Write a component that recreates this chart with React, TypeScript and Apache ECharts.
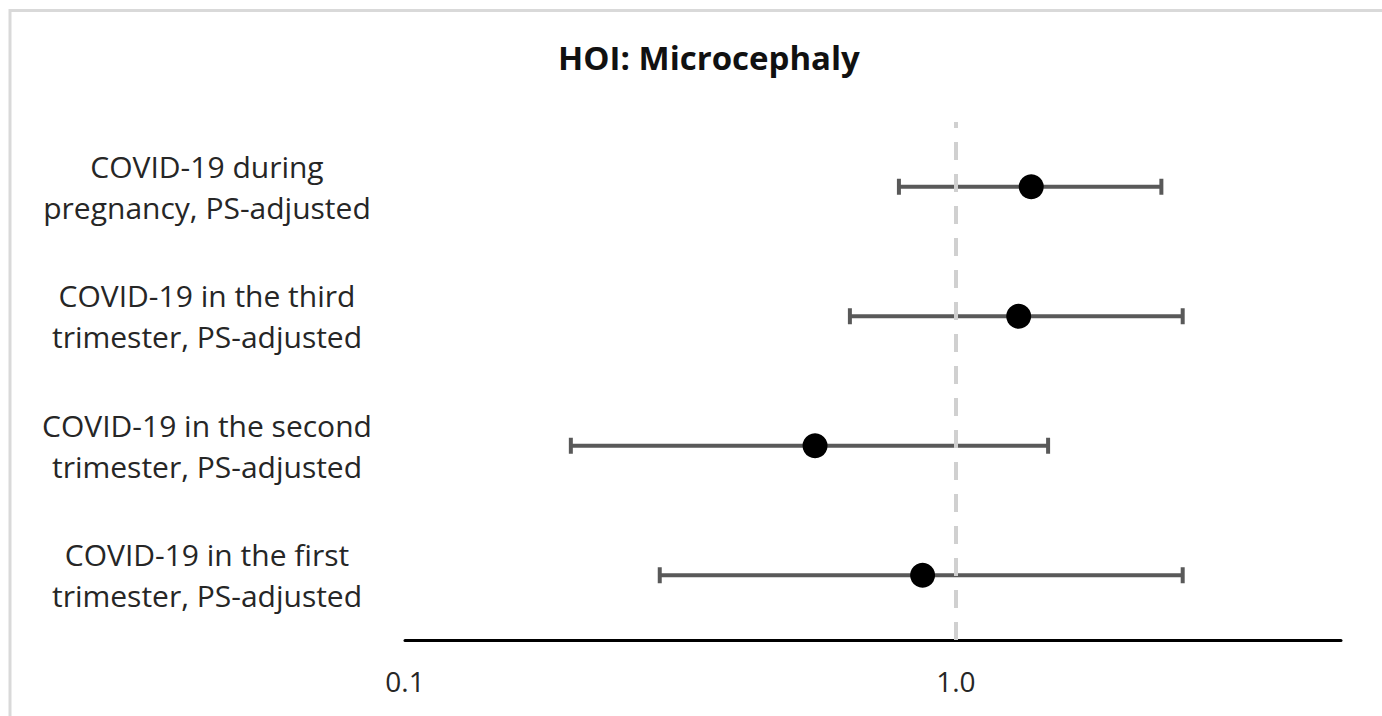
import React, { useEffect, useRef } from "react";
import * as echarts from "echarts";

const titleText = "HOI: Microcephaly";
const categories = [
  "COVID-19 in the first\ntrimester, PS-adjusted",
  "COVID-19 in the second\ntrimester, PS-adjusted",
  "COVID-19 in the third\ntrimester, PS-adjusted",
  "COVID-19 during\npregnancy, PS-adjusted",
];
const estimates = [0.87, 0.555, 1.3, 1.37];
const lowerCI = [0.29, 0.2, 0.642, 0.788];
const upperCI = [2.58, 1.47, 2.58, 2.36];
const xTickLabels = ["0.1", "1.0"];
const referenceValue = 1;

const FONT = "'Open Sans', 'Liberation Sans', sans-serif";

export default function App() {
  const ref = useRef<HTMLDivElement>(null);
  useEffect(() => {
    document.body.style.margin = "0";
    document.body.style.overflow = "hidden";
    const chart = echarts.init(ref.current!, null, { renderer: "svg" });
    const ciData = categories.map((_, i) => [i, lowerCI[i], upperCI[i]]);
    const pointData = categories.map((c, i) => [estimates[i], i]);
    chart.setOption({
      animation: false,
      backgroundColor: "#ffffff",
      title: {
        text: titleText,
        left: 704,
        top: 36,
        textAlign: "center",
        textStyle: {
          fontFamily: FONT,
          fontSize: 33,
          fontWeight: "bold",
          color: "#111111",
        },
      },
      graphic: [
        {
          type: "rect",
          shape: { x: 10, y: 10.5, width: 1420, height: 800 },
          style: { fill: "none", stroke: "#d9d9d9", lineWidth: 3 },
          silent: true,
        },
      ],
      grid: { left: 405, right: 41, top: 122, bottom: 76, containLabel: false },
      xAxis: {
        type: "log",
        logBase: 10,
        min: 0.1,
        max: 5,
        axisLine: { show: true, lineStyle: { color: "#000000", width: 3 } },
        axisTick: { show: false },
        splitLine: { show: false },
        axisLabel: {
          fontFamily: FONT,
          fontSize: 28,
          color: "#262626",
          margin: 27,
          showMaxLabel: false,
          formatter: (v: number) => {
            const l = Math.log10(v);
            if (Math.abs(l - Math.round(l)) > 1e-6) return "";
            const s = v.toFixed(1);
            return xTickLabels.includes(s) ? s : "";
          },
        },
      },
      yAxis: {
        type: "category",
        data: categories,
        axisLine: { show: false },
        axisTick: { show: false },
        splitLine: { show: false },
        axisLabel: {
          fontFamily: FONT,
          fontSize: 30,
          lineHeight: 41,
          color: "#262626",
          align: "center",
          margin: 198,
        },
      },
      series: [
        {
          type: "custom",
          data: ciData,
          encode: { x: [1, 2], y: 0 },
          renderItem: (params: any, api: any) => {
            const lo = api.coord([api.value(1), api.value(0)]);
            const hi = api.coord([api.value(2), api.value(0)]);
            const h = 8;
            const st = { stroke: "#595959", lineWidth: 4 };
            return {
              type: "group",
              children: [
                { type: "line", shape: { x1: lo[0], y1: lo[1], x2: hi[0], y2: hi[1] }, style: st },
                { type: "line", shape: { x1: lo[0], y1: lo[1] - h, x2: lo[0], y2: lo[1] + h }, style: st },
                { type: "line", shape: { x1: hi[0], y1: hi[1] - h, x2: hi[0], y2: hi[1] + h }, style: st },
              ],
            };
          },
          z: 2,
        },
        {
          type: "scatter",
          data: pointData,
          symbol: "circle",
          symbolSize: 25,
          itemStyle: { color: "#000000", opacity: 1 },
          z: 3,
          markLine: {
            silent: true,
            symbol: "none",
            label: { show: false },
            lineStyle: { color: "#d0d0d0", width: 4, type: [18, 14] },
            data: [{ xAxis: referenceValue }],
          },
        },
      ],
    });
    return () => chart.dispose();
  }, []);
  return (
    <div
      ref={ref}
      style={{ position: "fixed", left: 0, top: 0, width: 1382, height: 716 }}
    />
  );
}
